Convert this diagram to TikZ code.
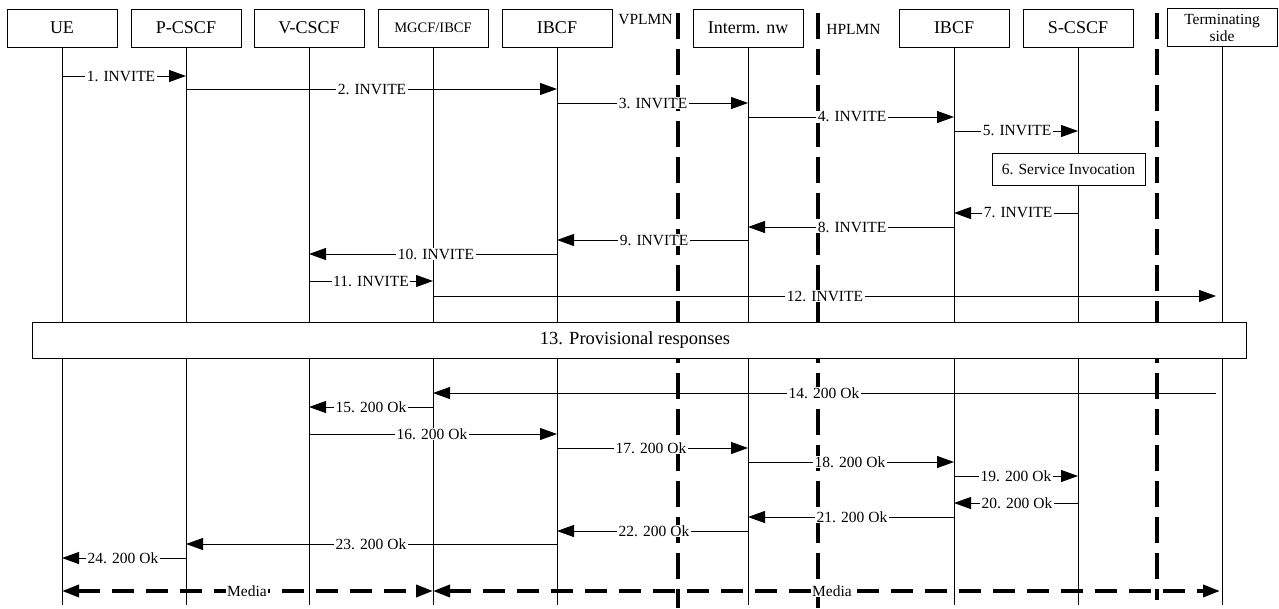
\documentclass[tikz,border=0pt]{standalone}
\usepackage{fontspec}
\setmainfont{Liberation Serif}
\usetikzlibrary{arrows.meta}
\begin{document}
\begin{tikzpicture}[x=1pt,y=-1pt,
  actor/.style={draw, line width=0.9pt, fill=white, minimum width=110pt, minimum height=38pt, inner sep=0pt, font=\fontsize{18}{20}\selectfont},
  life/.style={line width=1pt},
  msg/.style={line width=1pt, -{Triangle[length=17pt,width=12pt]}},
  lbl/.style={fill=white, inner xsep=1.5pt, inner ysep=0.5pt, font=\fontsize{15.5}{17}\selectfont},
  plmn/.style={inner sep=0pt, font=\fontsize{15.5}{17}\selectfont},
  border/.style={line width=3.5pt, dash pattern=on 26pt off 10pt},
  media/.style={line width=3.5pt, dash pattern=on 22pt off 12pt, {Triangle[length=17pt,width=12pt]}-{Triangle[length=17pt,width=12pt]}},
  note/.style={draw, line width=0.9pt, fill=white, inner sep=0pt, font=\fontsize{15.5}{17}\selectfont},
]
\useasboundingbox (0,0) rectangle (1279,608);

% network borders
\coordinate (v1t) at (678,13);   \coordinate (v1b) at (678,608);
\coordinate (v2t) at (818,13);   \coordinate (v2b) at (818,608);
\coordinate (v3t) at (1157,13);  \coordinate (v3b) at (1157,600);
\draw[border] (v1t) -- (v1b);
\draw[border] (v2t) -- (v2b);
\draw[border] (v3t) -- (v3b);
\node[plmn] (vplmn) at (645.5,20) {VPLMN};
\node[plmn] (hplmn) at (853.5,29) {HPLMN};

% actors
\node[actor] (UE) at (62,28) {UE};
\node[actor] (PC) at (186,28) {P-CSCF};
\node[actor] (VC) at (309,28) {V-CSCF};
\node[actor, font=\fontsize{14.5}{16}\selectfont] (MG) at (433,28) {MGCF/IBCF};
\node[actor] (IB1) at (557,28) {IBCF};
\node[actor] (IN) at (748,28) {Interm. nw};
\node[actor] (IB2) at (954,28) {IBCF};
\node[actor] (SC) at (1078,28) {S-CSCF};
\node[actor, font=\fontsize{15.5}{17}\selectfont, align=center] (TS) at (1222,27.5) {Terminating\\side};

\coordinate (bot) at (0,605);
\foreach \n in {UE,PC,VC,MG,IB1,IN,IB2,SC,TS}
  \draw[life] (\n.south) -- (\n.south |- bot);

\coordinate (TSe) at ([xshift=-6pt]TS.south);
\coordinate (TSm) at ([xshift=-2pt]TS.south);

% boxes over lifelines
\node[note, minimum width=153pt, minimum height=32pt] (svc) at (1068.5,169) {6. Service Invocation};
\node[note, minimum width=1214pt, minimum height=36pt, font=\fontsize{18.5}{20}\selectfont] (prov) at (639,340) {13. Provisional responses\hspace*{8pt}};

% messages
\foreach \a/\b/\y/\lx/\t [count=\i] in {
 UE/PC/76/121/1. INVITE,
 PC/IB1/89/372/2. INVITE,
 IB1/IN/103/653/3. INVITE,
 IN/IB2/117/852/4. INVITE,
 IB2/SC/131/1017/5. INVITE,
 SC/IB2/213/1018/7. INVITE,
 IB2/IN/227/852/8. INVITE,
 IN/IB1/240/654/9. INVITE,
 IB1/VC/254/436/10. INVITE,
 VC/MG/281/371/11. INVITE,
 MG/TSe/296/825/12. INVITE,
 TSe/MG/393/824/14. 200 Ok,
 MG/VC/407/371/15. 200 Ok,
 VC/IB1/434/432/16. 200 Ok,
 IB1/IN/448/651/17. 200 Ok,
 IN/IB2/462/850/18. 200 Ok,
 IB2/SC/476/1016/19. 200 Ok,
 SC/IB2/503/1017/20. 200 Ok,
 IB2/IN/517/852/21. 200 Ok,
 IN/IB1/531/654/22. 200 Ok,
 IB1/PC/544/371/23. 200 Ok,
 PC/UE/558/123/24. 200 Ok}
{
  \draw[msg] (\a |- 0,\y) -- (\b |- 0,\y);
  \node[lbl] (m\i) at (\lx,\y) {\t};
}

% media
\draw[media] (UE |- 0,591) -- (MG |- 0,591);
\draw[media] (MG |- 0,591) -- (TSm |- 0,591);
\node[lbl] (md1) at (247,591) {Media};
\node[lbl] (md2) at (832,591) {Media};
\end{tikzpicture}
\end{document}
